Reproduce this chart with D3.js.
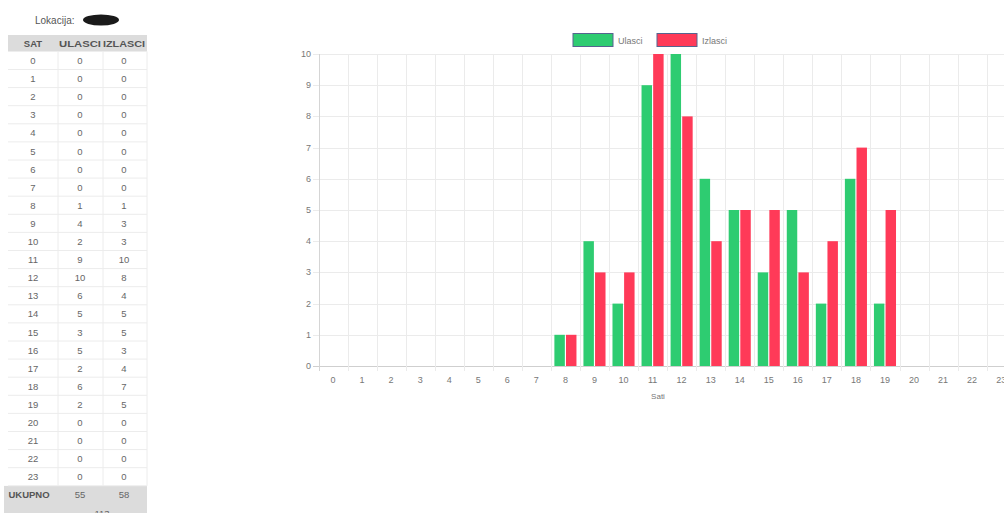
<!DOCTYPE html>
<html>
<head>
<meta charset="utf-8">
<script src="https://cdn.jsdelivr.net/npm/d3@7"></script>
<style>
  body { margin: 0; background: #fff; }
  svg { display: block; font-family: "Liberation Sans", Arial, sans-serif; }
</style>
</head>
<body>
<div id="chart"></div>
<script>
var hours = d3.range(0, 24).map(String);
var ulasci = [0,0,0,0,0,0,0,0,1,4,2,9,10,6,5,3,5,2,6,2,0,0,0,0];
var izlasci = [0,0,0,0,0,0,0,0,1,3,3,10,8,4,5,5,3,4,7,5,0,0,0,0];
var seriesNames = ["Ulasci", "Izlasci"];
var seriesColors = ["#2ecc71", "#ff3a58"];
var yTicks = [0,1,2,3,4,5,6,7,8,9,10];
var tableHeader = ["SAT", "ULASCI", "IZLASCI"];

var width = 1004, height = 513;
var svg = d3.select("#chart").append("svg")
    .attr("width", width)
    .attr("height", height);

// ---------- table on the left ----------
var colX = [33, 80, 124];
var rowY = d3.scaleLinear().domain([0, 1]).range([60.5, 78.6]);
var tbl = svg.append("g").attr("font-size", 9.5).attr("fill", "#666");

tbl.append("text").attr("x", 35).attr("y", 24).attr("fill", "#555")
    .attr("font-size", 10).text("Lokacija:");
// redacted location name
tbl.append("ellipse").attr("cx", 101).attr("cy", 20).attr("rx", 18).attr("ry", 5.5)
    .attr("fill", "#1a1a1a");

// header + footer backgrounds
tbl.append("rect").attr("x", 8).attr("y", 35).attr("width", 139).attr("height", 16.5).attr("fill", "#dcdcdc");
tbl.append("rect").attr("x", 4).attr("y", rowY(24) - 9).attr("width", 143).attr("height", 36).attr("fill", "#dcdcdc");

// row grid lines
hours.forEach(function (h, i) {
    tbl.append("line").attr("x1", 8).attr("x2", 147)
        .attr("y1", rowY(i) + 9).attr("y2", rowY(i) + 9)
        .attr("stroke", "#ececec");
});
[58, 103, 147].forEach(function (x) {
    tbl.append("line").attr("x1", x).attr("x2", x)
        .attr("y1", 51.5).attr("y2", rowY(23) + 9)
        .attr("stroke", "#ececec");
});

tbl.selectAll(".hdr").data(tableHeader).enter().append("text")
    .attr("class", "hdr")
    .attr("x", function (d, i) { return colX[i]; })
    .attr("y", 46.5)
    .attr("text-anchor", "middle")
    .attr("font-weight", "bold")
    .attr("fill", "#555")
    .attr("textLength", function (d, i) { return i === 0 ? null : 42; })
    .attr("lengthAdjust", "spacingAndGlyphs")
    .text(function (d) { return d; });

hours.forEach(function (h, i) {
    [h, ulasci[i], izlasci[i]].forEach(function (v, j) {
        tbl.append("text")
            .attr("x", colX[j])
            .attr("y", rowY(i) + 3.5)
            .attr("text-anchor", "middle")
            .text(v);
    });
});

var sumU = d3.sum(ulasci), sumI = d3.sum(izlasci);
tbl.append("text").attr("x", 29).attr("y", rowY(24) + 3.5).attr("text-anchor", "middle")
    .attr("font-weight", "bold").attr("fill", "#555").text("UKUPNO");
tbl.append("text").attr("x", colX[1]).attr("y", rowY(24) + 3.5).attr("text-anchor", "middle").text(sumU);
tbl.append("text").attr("x", colX[2]).attr("y", rowY(24) + 3.5).attr("text-anchor", "middle").text(sumI);
tbl.append("text").attr("x", 102).attr("y", rowY(25) + 3.5).attr("text-anchor", "middle").text(sumU + sumI);

// ---------- bar chart ----------
var xScale = d3.scaleBand().domain(hours).range([318.5, 318.5 + 24 * 29.05]);
var yScale = d3.scaleLinear().domain([0, 10]).range([366, 54]);
var bw = xScale.bandwidth();
var xSub = d3.scaleBand().domain(seriesNames).range([0.1 * bw, 0.9 * bw]);

var chart = svg.append("g");

// horizontal grid
chart.selectAll(".hgrid").data(yTicks).enter().append("line")
    .attr("x1", 313).attr("x2", width)
    .attr("y1", function (d) { return Math.round(yScale(d)) + 0.5; })
    .attr("y2", function (d) { return Math.round(yScale(d)) + 0.5; })
    .attr("stroke", function (d) { return d === 0 ? "#cfcfcf" : "#ebebeb"; });

// vertical grid at band boundaries
var vLines = hours.map(function (h) { return xScale(h); }).concat([xScale.range()[1]]);
chart.selectAll(".vgrid").data(vLines).enter().append("line")
    .attr("x1", function (d) { return Math.round(d) + 0.5; })
    .attr("x2", function (d) { return Math.round(d) + 0.5; })
    .attr("y1", yScale(10)).attr("y2", yScale(0) + 5)
    .attr("stroke", function (d, i) { return i === 0 ? "#d5d5d5" : "#ebebeb"; });

// y tick labels
chart.selectAll(".ylab").data(yTicks).enter().append("text")
    .attr("x", 311)
    .attr("y", function (d) { return yScale(d) + 3; })
    .attr("text-anchor", "end")
    .attr("font-size", 9)
    .attr("fill", "#777")
    .text(function (d) { return d; });

// x tick labels
chart.selectAll(".xlab").data(hours).enter().append("text")
    .attr("x", function (d) { return xScale(d) + bw / 2; })
    .attr("y", 383)
    .attr("text-anchor", "middle")
    .attr("font-size", 9)
    .attr("fill", "#777")
    .text(function (d) { return d; });

chart.append("text").attr("x", 658).attr("y", 399).attr("text-anchor", "middle")
    .attr("font-size", 8).attr("fill", "#777").text("Sati");

// bars
var seriesData = [ulasci, izlasci];
seriesData.forEach(function (vals, s) {
    chart.selectAll(".bar" + s).data(vals).enter().append("rect")
        .attr("x", function (d, i) { return xScale(hours[i]) + xSub(seriesNames[s]) + xSub.bandwidth() * 0.05; })
        .attr("width", xSub.bandwidth() * 0.9)
        .attr("y", function (d) { return yScale(d); })
        .attr("height", function (d) { return yScale(0) - yScale(d); })
        .attr("fill", seriesColors[s]);
});

// legend
var legendX = [573, 657];
seriesNames.forEach(function (name, s) {
    chart.append("rect").attr("x", legendX[s]).attr("y", 33.5).attr("width", 40).attr("height", 13)
        .attr("fill", seriesColors[s]).attr("stroke", "#56648f").attr("stroke-width", 1);
    chart.append("text").attr("x", legendX[s] + 45).attr("y", 43.5)
        .attr("font-size", 9).attr("fill", "#777").text(name);
});
</script>
</body>
</html>
